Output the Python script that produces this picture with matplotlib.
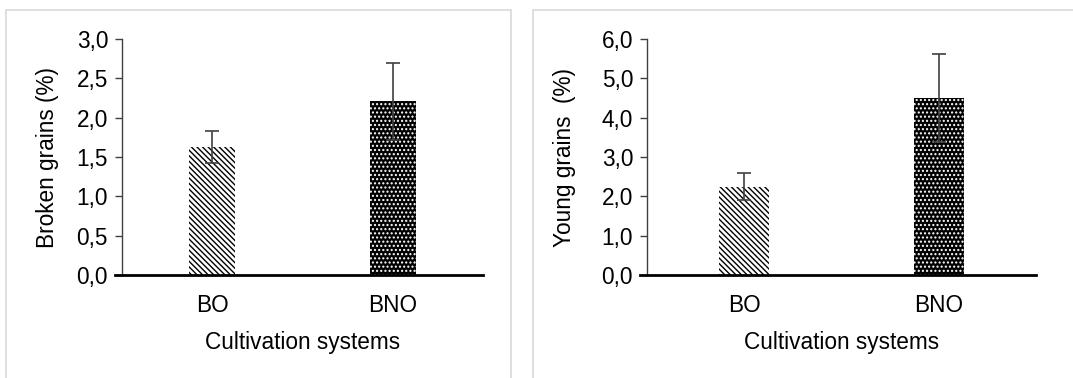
import matplotlib.pyplot as plt
import matplotlib.patches as mpatches
from matplotlib.ticker import FuncFormatter

categorias = ['BO', 'BNO']
broken = [1.63, 2.21]
broken_err = [0.20, 0.49]
young = [2.25, 4.49]
young_err = [0.35, 1.12]

plt.rcParams['font.family'] = ['Liberation Sans', 'DejaVu Sans']
plt.rcParams['font.size'] = 16.3
plt.rcParams['hatch.linewidth'] = 1.0

fig = plt.figure(figsize=(10.73, 3.78), dpi=100)
W, H = 1073, 378

# marcos grises de cada panel
for x0, x1 in [(6, 511), (533, 1080)]:
    fig.patches.append(mpatches.Rectangle((x0 / W, -0.1), (x1 - x0) / W, (H - 10) / H + 0.1,
                                          transform=fig.transFigure, fill=False,
                                          edgecolor='#d9d9d9', linewidth=1.2))

coma = FuncFormatter(lambda v, p: f"{v:.1f}".replace('.', ','))

def panel(rect, valores, errores, ymax, paso, etiqueta, labelpad):
    ax = fig.add_axes(rect)
    x = range(len(categorias))
    b = ax.bar(x, valores, width=0.255, color=['white', 'black'], zorder=2)
    b[0].set_hatch('\\\\\\\\\\\\')
    b[0].set_edgecolor('black')
    b[0].set_linewidth(0)
    b[1].set_hatch('....')
    b[1].set_edgecolor('white')
    b[1].set_linewidth(0)
    ax.errorbar(x, valores, yerr=errores, fmt='none', ecolor='#404040',
                elinewidth=1.2, capsize=5, capthick=1.2, zorder=3)
    ax.set_xlim(-0.5, 1.5)
    ax.set_ylim(0, ymax)
    ax.set_yticks([i * paso for i in range(int(round(ymax / paso)) + 1)])
    ax.yaxis.set_major_formatter(coma)
    ax.set_xticks(list(x))
    ax.set_xticklabels(categorias)
    ax.tick_params(axis='x', length=0, pad=14)
    ax.tick_params(axis='y', length=5, width=1, color='#404040', pad=5)
    for s in ['top', 'right']:
        ax.spines[s].set_visible(False)
    ax.spines['left'].set_color('#404040')
    ax.spines['left'].set_linewidth(1)
    ax.spines['bottom'].set_linewidth(2)
    ax.spines['bottom'].set_bounds(-0.5 - 7 / (rect[2] * W) * 2, 1.5)
    ax.set_ylabel(etiqueta, labelpad=labelpad)
    ax.set_xlabel('Cultivation systems', labelpad=10)
    return ax

panel([122 / W, 1 - 275 / H, 361 / W, 236 / H], broken, broken_err, 3.0, 0.5,
      'Broken grains (%)', 13)
panel([647 / W, 1 - 275 / H, 389 / W, 236 / H], young, young_err, 6.0, 1.0,
      'Young grains  (%)', 18.5)

fig.savefig('out.png', dpi=100)
